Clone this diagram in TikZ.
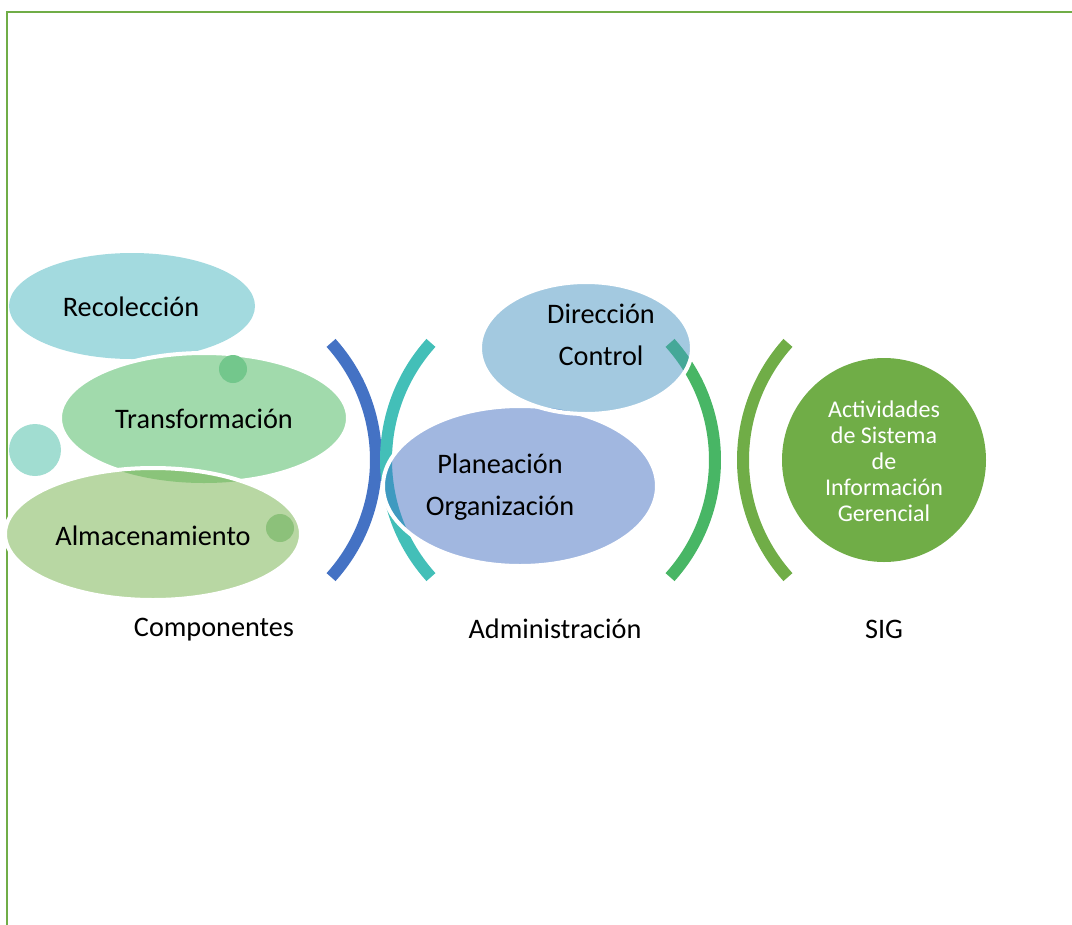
\documentclass[tikz,border=0pt]{standalone}
\usepackage{fontspec}
\setmainfont{Carlito}
\usepackage{tikz}
\usetikzlibrary{positioning}
\definecolor{recolfill}{HTML}{A3DADF}
\definecolor{transfill}{HTML}{A1DAAC}
\definecolor{almfill}{HTML}{B8D7A3}
\definecolor{ovrt}{HTML}{7DC89A}
\definecolor{ovta}{HTML}{8AC47A}
\definecolor{dotone}{HTML}{73C78C}
\definecolor{dottwo}{HTML}{A1DDD1}
\definecolor{dotthree}{HTML}{8CC17A}
\definecolor{arcblue}{HTML}{4472C4}
\definecolor{arcteal}{HTML}{43BFB8}
\definecolor{ovtp}{HTML}{3F9AC0}
\definecolor{planfill}{HTML}{A1B7E0}
\definecolor{dirfill}{HTML}{A3C9E0}
\definecolor{ovdp}{HTML}{6A9AD0}
\definecolor{arcgreen}{HTML}{48B665}
\definecolor{ovgd}{HTML}{45A898}
\definecolor{sigolive}{HTML}{70AD47}

\begin{document}
\begin{tikzpicture}[x=0.75pt,y=0.75pt,yscale=-1,xscale=1,
  bigtxt/.style={inner sep=0.75pt, font=\fontsize{21.2}{31.5}\selectfont, align=center},
  sigtxt/.style={inner sep=0.75pt, text=white, font=\fontsize{18}{19.5}\selectfont, align=center},
  cutline/.style={draw=white, line width=3pt},
  bow/.style={line width=9pt}]
\useasboundingbox (0,0) rectangle (1072,925);

%Frame
\draw [sigolive, line width=1.8pt] (7,925) -- (7,12) -- (1072,12) ;

%Shape: Ellipse Recoleccion
\fill [recolfill] (132,306) ellipse [x radius=123, y radius=53] ;
%Shape: Ellipse Transformacion
\fill [transfill] (204,418) ellipse [x radius=144, y radius=65] ;
\begin{scope}
\clip (204,418) ellipse [x radius=144, y radius=65] ;
\fill [ovrt] (132,306) ellipse [x radius=123, y radius=53] ;
\end{scope}
\draw [cutline] (204,418) ellipse [x radius=144, y radius=65] ;
%Shape: Ellipse Almacenamiento
\fill [almfill] (153,534) ellipse [x radius=148, y radius=66] ;
\begin{scope}
\clip (153,534) ellipse [x radius=148, y radius=66] ;
\fill [ovta] (204,418) ellipse [x radius=144, y radius=65] ;
\end{scope}
\draw [cutline] (153,534) ellipse [x radius=148, y radius=66] ;

%Shape: Circle dots
\fill [dotone] (233,369) circle [radius=14] ;
\fill [dottwo] (35,450) circle [radius=26] ;
\fill [dotthree] (280,528) circle [radius=14] ;

%Shape: Arc blue
\draw [bow, arcblue] (201,460) ++(-42:175) arc (-42:42:175) ;
%Shape: Arc teal
\draw [bow, arcteal] (561,460) ++(138:175) arc (138:222:175) ;

%Shape: Ellipse Planeacion
\fill [planfill] (520,486) ellipse [x radius=137, y radius=80] ;
\begin{scope}
\clip (520,486) ellipse [x radius=137, y radius=80] ;
\draw [bow, ovtp] (561,460) ++(138:175) arc (138:222:175) ;
\end{scope}
\draw [cutline] (520,486) ellipse [x radius=137, y radius=80] ;

%Shape: Arc green
\draw [bow, arcgreen] (540,460) ++(-42:175) arc (-42:42:175) ;

%Shape: Ellipse Direccion
\fill [dirfill] (586,348) ellipse [x radius=106, y radius=66] ;
\begin{scope}
\clip (586,348) ellipse [x radius=106, y radius=66] ;
\fill [ovdp] (520,486) ellipse [x radius=137, y radius=80] ;
\draw [bow, ovgd] (540,460) ++(-42:175) arc (-42:42:175) ;
\end{scope}
\draw [cutline] (586,348) ellipse [x radius=106, y radius=66] ;

%Shape: Arc olive
\draw [bow, sigolive] (918,460) ++(138:175) arc (138:222:175) ;
%Shape: Circle SIG
\fill [sigolive] (884,460) circle [radius=102] ;

% Text Node
\draw (131,307) node (recol) [bigtxt] {Recolección};
% Text Node
\draw (204,419) node (transf) [bigtxt] {Transformación};
% Text Node
\draw (153,536) node (almac) [bigtxt] {Almacenamiento};
% Text Node
\draw (601,335) node (direc) [bigtxt] {Dirección\\Control};
% Text Node
\draw (500,487) node (plane) [bigtxt] {Planeación\\Organización};
% Text Node
\draw (884,461) node (activ) [sigtxt] {Actividades\\de Sistema\\de\\Información\\Gerencial};
% Text Node
\draw (214,630) node (compo) [bigtxt] {Componentes};
% Text Node
\draw (555,629) node (admin) [bigtxt] {Administración};
% Text Node
\draw (884,629) node (sig) [bigtxt] {SIG};

\end{tikzpicture}
\end{document}
